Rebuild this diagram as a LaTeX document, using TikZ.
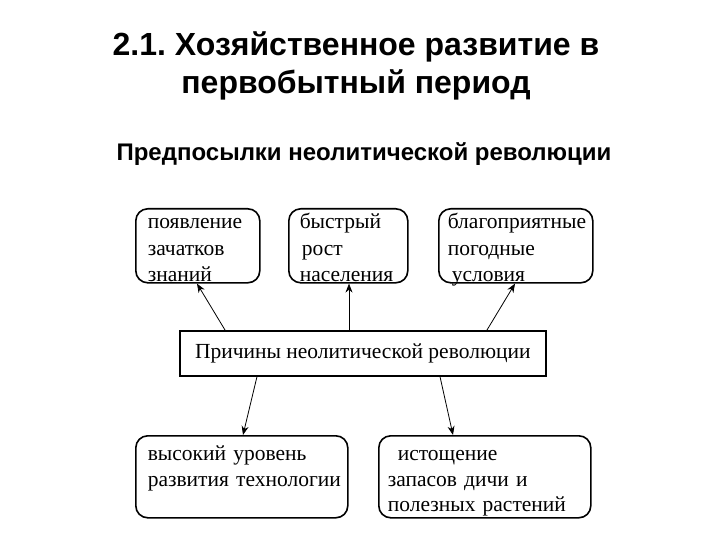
\documentclass[tikz,border=0pt]{standalone}
\usepackage{fontspec}
\setmainfont{Liberation Serif}
\newfontfamily\titlefont{Liberation Sans}
\usetikzlibrary{arrows.meta}
\frenchspacing
\tikzset{
  x=1pt,y=-1pt,
  rbox/.style={draw,line width=1.6pt,rounded corners=12pt,anchor=north west,
    align=left,font=\fontsize{21.5}{26.5}\selectfont,inner ysep=0pt},
  top3/.style={text height=20pt,text depth=54pt,minimum height=74pt},
  bot3/.style={text height=25pt,text depth=57pt,minimum height=82pt,
    font=\fontsize{21.5}{25.5}\selectfont},
  sbox/.style={draw,line width=1.6pt,anchor=north west,inner sep=0pt,
    font=\fontsize{21.5}{24}\selectfont},
  arr/.style={line width=0.8pt,-{Stealth[length=9pt,width=7pt]}},
  ttl/.style={font=\titlefont\bfseries\fontsize{32}{38}\selectfont,align=center},
}
\begin{document}
\begin{tikzpicture}
\useasboundingbox (0,0) rectangle (720,540);
\node[ttl] (title) at (356,66) {2.1. Хозяйственное развитие в\\первобытный период};
\node[font=\titlefont\bfseries\fontsize{24}{28}\selectfont] (sub) at (364,154) {Предпосылки неолитической революции};

\node[rbox,top3,minimum width=122pt,text width=100pt,inner xsep=12pt] (b1) at (135,208)
  {появление\\зачатков\\знаний};
\node[rbox,top3,minimum width=119pt,text width=97pt,inner xsep=11pt] (b2) at (288,208)
  {быстрый\\\hspace*{2pt}рост\\населения};
\node[rbox,top3,minimum width=154pt,text width=136pt,inner xsep=9pt] (b3) at (438,208)
  {благоприятные\\погодные\\\hspace*{4pt}условия};
\node[sbox,minimum width=366pt,minimum height=45pt] (mid) at (179,330)
  {Причины неолитической революции};
\node[rbox,bot3,minimum width=212pt,text width=188pt,inner xsep=12pt] (b4) at (135,435)
  {высокий~уровень\\развития~технологии};
\node[rbox,bot3,minimum width=212pt,text width=194pt,inner xsep=9pt] (b5) at (378,435)
  {\hspace*{10pt}истощение\\запасов~дичи~и\\полезных~растений};

\draw[arr] ([xshift=46pt]mid.north west) -- ([xshift=62pt]b1.south west);
\draw[arr] ([xshift=170pt]mid.north west) -- ([xshift=61pt]b2.south west);
\draw[arr] ([xshift=308pt]mid.north west) -- ([xshift=77pt]b3.south west);
\draw[arr] ([xshift=78pt]mid.south west) -- ([xshift=108pt]b4.north west);
\draw[arr] ([xshift=261pt]mid.south west) -- ([xshift=75pt]b5.north west);
\end{tikzpicture}
\end{document}
